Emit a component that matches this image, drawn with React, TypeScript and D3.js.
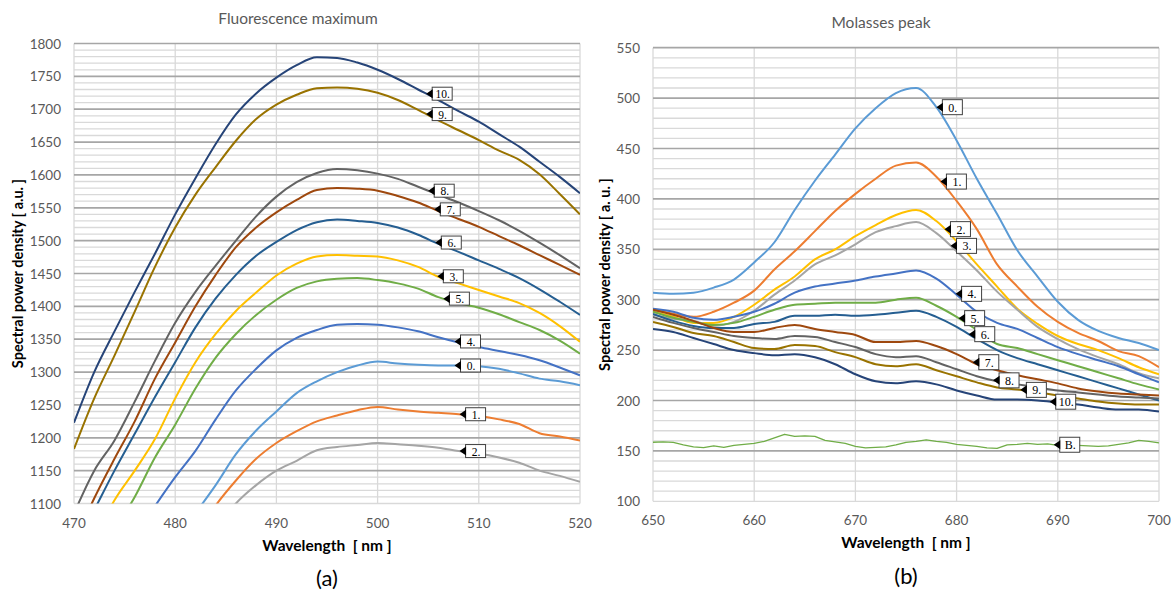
import React from 'react';
import * as d3 from 'd3';

// ---------- Panel (a): Fluorescence maximum ----------
const WL_A = [470, 472, 474, 476, 478, 480, 482, 484, 486, 488, 490, 492, 494, 496, 498, 500, 502, 504, 506, 508, 510, 512, 514, 516, 518, 520];
const A_NAMES = ['0.', '1.', '2.', '3.', '4.', '5.', '6.', '7.', '8.', '9.', '10.'];
const A0 = [null, null, null, null, null, 1040, 1085, 1128, 1175, 1211, 1240, 1268, 1286, 1300, 1310, 1316, 1313, 1311, 1310, 1310, 1309, 1305, 1298, 1290, 1286, 1280];
const A1 = [null, null, null, null, null, null, 1050, 1097, 1135, 1168, 1192, 1210, 1225, 1234, 1242, 1247, 1243, 1240, 1238, 1236, 1233, 1228, 1221, 1207, 1202, 1196];
const A2 = [null, null, null, null, null, null, null, 1060, 1100, 1128, 1150, 1165, 1181, 1186, 1189, 1192, 1190, 1188, 1185, 1180, 1176, 1170, 1162, 1150, 1142, 1133];
const A3 = [null, 1045, 1105, 1150, 1198, 1260, 1315, 1358, 1393, 1421, 1447, 1465, 1476, 1478, 1477, 1476, 1470, 1460, 1445, 1435, 1425, 1415, 1405, 1390, 1370, 1346];
const A4 = [null, null, null, 1050, 1096, 1140, 1180, 1228, 1272, 1305, 1333, 1352, 1364, 1372, 1373, 1372, 1368, 1362, 1353, 1345, 1338, 1332, 1326, 1318, 1307, 1295];
const A5 = [null, null, 1060, 1110, 1170, 1220, 1275, 1322, 1358, 1387, 1410, 1428, 1438, 1442, 1443, 1440, 1435, 1427, 1414, 1405, 1398, 1388, 1376, 1364, 1348, 1328];
const A6 = [1030, 1090, 1150, 1206, 1262, 1315, 1368, 1412, 1448, 1477, 1498, 1516, 1528, 1532, 1530, 1527, 1520, 1509, 1495, 1483, 1470, 1457, 1443, 1426, 1407, 1387];
const A7 = [1040, 1108, 1168, 1225, 1290, 1345, 1400, 1448, 1490, 1520, 1543, 1562, 1577, 1580, 1579, 1576, 1568, 1558, 1545, 1533, 1521, 1507, 1493, 1478, 1463, 1448];
const A8 = [1085, 1150, 1196, 1255, 1317, 1375, 1422, 1462, 1500, 1537, 1567, 1589, 1603, 1609, 1607, 1602, 1594, 1582, 1570, 1558, 1545, 1531, 1515, 1497, 1478, 1458];
const A9 = [1183, 1260, 1325, 1392, 1460, 1520, 1570, 1612, 1652, 1685, 1707, 1722, 1732, 1733, 1731, 1725, 1714, 1699, 1683, 1668, 1653, 1637, 1623, 1601, 1571, 1540];
const A10 = [1223, 1300, 1362, 1422, 1480, 1540, 1595, 1647, 1692, 1724, 1748, 1767, 1779, 1778, 1771, 1760, 1746, 1730, 1714, 1697, 1681, 1662, 1643, 1620, 1597, 1572];
const A_LABEL_WL = [507.6, 508.1, 508.1, 505.9, 507.6, 506.5, 505.7, 505.6, 505.0, 504.8, 504.8];
const A_X_TICKS = [470, 480, 490, 500, 510, 520];
const A_Y_DOMAIN = [1100, 1800];

// ---------- Panel (b): Molasses peak ----------
const WL_B = [650, 652, 654, 656, 658, 660, 662, 664, 666, 668, 670, 672, 674, 676, 678, 680, 682, 684, 686, 688, 690, 692, 694, 696, 698, 700];
const B_NAMES = ['0.', '1.', '2.', '3.', '4.', '5.', '6.', '7.', '8.', '9.', '10.'];
const B0 = [307, 306, 307, 312, 320, 337, 357, 389, 418, 444, 470, 490, 505, 510, 491, 458, 420, 385, 349, 323, 298, 280, 269, 262, 257, 250];
const B1 = [290, 286, 283, 288, 297, 309, 330, 348, 368, 388, 405, 420, 433, 436, 422, 398, 370, 335, 313, 293, 278, 267, 259, 249, 244, 233];
const B2 = [288, 283, 277, 277, 283, 295, 310, 323, 340, 350, 363, 374, 384, 389, 378, 358, 335, 313, 291, 276, 264, 256, 250, 242, 233, 226];
const B3 = [285, 281, 279, 274, 278, 289, 305, 319, 335, 344, 355, 367, 373, 377, 366, 348, 329, 308, 290, 273, 261, 251, 243, 236, 227, 222];
const B4 = [291, 288, 282, 280, 283, 288, 296, 307, 313, 316, 319, 323, 326, 329, 321, 305, 288, 277, 271, 262, 253, 246, 240, 234, 226, 218];
const B5 = [288, 282, 278, 275, 277, 283, 290, 295, 296, 297, 297, 297, 300, 302, 294, 283, 270, 256, 252, 246, 240, 234, 228, 222, 216, 211];
const B6 = [286, 279, 274, 272, 272, 276, 278, 284, 284, 285, 284, 285, 287, 289, 283, 273, 261, 250, 242, 236, 230, 224, 218, 212, 206, 200];
const B7 = [290, 285, 279, 272, 268, 268, 272, 275, 271, 268, 265, 258, 258, 259, 254, 246, 236, 230, 225, 221, 217, 212, 209, 207, 206, 205];
const B8 = [283, 277, 272, 268, 264, 262, 261, 264, 263, 258, 253, 246, 243, 244, 238, 231, 224, 219, 216, 213, 210, 208, 206, 204, 203, 202];
const B9 = [278, 273, 267, 264, 258, 252, 251, 255, 254, 248, 243, 236, 234, 236, 230, 224, 218, 213, 211, 208, 205, 202, 199, 197, 196, 196];
const B10 = [271, 268, 262, 256, 250, 247, 245, 246, 243, 236, 226, 219, 217, 219, 216, 210, 205, 201, 201, 200, 198, 196, 193, 191, 191, 189];
const B_LABEL_WL = [678.0, 678.4, 678.8, 679.4, 679.9, 680.2, 681.2, 681.6, 683.6, 686.3, 689.2];
const WL_BASE = [650, 651, 652, 653, 654, 655, 656, 657, 658, 659, 660, 661, 662, 663, 664, 665, 666, 667, 668, 669, 670, 671, 672, 673, 674, 675, 676, 677, 678, 679, 680, 681, 682, 683, 684, 685, 686, 687, 688, 689, 690, 691, 692, 693, 694, 695, 696, 697, 698, 699, 700];
const BASE = [158.6, 159, 158.5, 156, 154, 153.3, 155, 153.5, 155.5, 156.5, 157.5, 159.5, 163, 166.5, 164.5, 165, 164.5, 160.5, 159, 157.5, 154.5, 153, 153.5, 154, 156, 158.5, 159.5, 161, 159.5, 158.5, 156.5, 155.5, 154.5, 153, 152.5, 156, 156.5, 157.5, 156.5, 157, 155.5, 156, 155.5, 155, 154.5, 155, 156.5, 158, 160.5, 159.5, 158];
const BASE_NAME = 'B.';
const BASE_LABEL_WL = 689.6;
const B_X_TICKS = [650, 660, 670, 680, 690, 700];
const B_Y_DOMAIN = [100, 550];

// ---------- styles ----------
const COLORS_A = ['#5B9BD5', '#ED7D31', '#A5A5A5', '#FFC000', '#4472C4', '#70AD47', '#255E91', '#9E480E', '#636363', '#997300', '#264478'];
const COLORS_B = ['#5B9BD5', '#ED7D31', '#FFC000', '#A5A5A5', '#4472C4', '#70AD47', '#255E91', '#9E480E', '#636363', '#997300', '#264478'];
const BASE_COLOR = '#70AD47';
const SANS = "Lato, 'Open Sans', sans-serif";
const SERIF = "'Liberation Serif', 'DejaVu Serif', serif";

type Series = { name: string; wl: number[]; values: (number | null)[]; color: string; labelWl: number; width: number; smooth: boolean };

function interp(wl: number[], vals: (number | null)[], x: number): number {
  const i = Math.max(1, Math.min(wl.length - 1, d3.bisectLeft(wl, x)));
  const a = vals[i - 1] as number, b = vals[i] as number;
  const t = (x - wl[i - 1]) / (wl[i] - wl[i - 1]);
  return a + (b - a) * t;
}

function Panel(props: {
  id: string; box: { x0: number; x1: number; y0: number; y1: number };
  xTicks: number[]; yDomain: number[]; series: Series[];
  title: string; titleX: number; titleY: number; yLabel: string; yLabelX: number; letter: string;
  boxH: number; fontSize: number;
}) {
  const { box, xTicks, yDomain, series } = props;
  const x = d3.scaleLinear().domain([xTicks[0], xTicks[xTicks.length - 1]]).range([box.x0, box.x1]);
  const y = d3.scaleLinear().domain(yDomain).range([box.y1, box.y0]);
  const minor = d3.range(yDomain[0], yDomain[1] + 1, 10).filter((v) => v % 50 !== 0);
  const major = d3.range(yDomain[0], yDomain[1] + 1, 50);
  const cx = (box.x0 + box.x1) / 2;
  const cy = (box.y0 + box.y1) / 2;
  return (
    <g>
      <defs>
        <clipPath id={props.id}>
          <rect x={box.x0} y={box.y0 - 1} width={box.x1 - box.x0} height={box.y1 - box.y0 + 1} />
        </clipPath>
      </defs>
      <text x={props.titleX} y={props.titleY} textAnchor="middle" dominantBaseline="central" fontFamily={SANS} fontSize={15.5} fill="#595959">{props.title}</text>
      {minor.map((v) => (
        <line key={'mi' + v} x1={box.x0} x2={box.x1} y1={y(v)} y2={y(v)} stroke="#D9D9D9" strokeWidth={1.3} />
      ))}
      {xTicks.map((v) => (
        <line key={'vx' + v} x1={x(v)} x2={x(v)} y1={box.y0} y2={box.y1} stroke="#D9D9D9" strokeWidth={1.3} />
      ))}
      {major.map((v) => (
        <line key={'ma' + v} x1={box.x0} x2={box.x1} y1={y(v)} y2={y(v)} stroke={v === yDomain[0] ? '#D9D9D9' : '#A6A6A6'} strokeWidth={v === yDomain[0] ? 1.3 : 1.7} />
      ))}
      {major.map((v) => (
        <text key={'yl' + v} x={box.x0 - 13} y={y(v)} textAnchor="end" dominantBaseline="central" fontFamily={SANS} fontSize={13.5} fill="#595959">{v}</text>
      ))}
      {xTicks.map((v) => (
        <text key={'xl' + v} x={x(v)} y={box.y1 + 19} textAnchor="middle" dominantBaseline="central" fontFamily={SANS} fontSize={13.5} fill="#595959">{v}</text>
      ))}
      <g clipPath={`url(#${props.id})`}>
        {series.map((s) => {
          const pts = s.wl.map((w, i) => [w, s.values[i]] as [number, number | null]);
          const line = d3.line<[number, number | null]>()
            .defined((d) => d[1] != null)
            .x((d) => x(d[0]))
            .y((d) => y(d[1] as number))
            .curve(s.smooth ? d3.curveMonotoneX : d3.curveLinear);
          return <path key={s.name} d={line(pts) || ''} fill="none" stroke={s.color} strokeWidth={s.width} strokeLinejoin="round" />;
        })}
      </g>
      {series.map((s) => {
        const tx = x(s.labelWl);
        const ty = y(interp(s.wl, s.values, s.labelWl));
        const h = props.boxH;
        return (
          <g key={'lb' + s.name} transform={`translate(${tx},${ty})`}>
            <rect x={6} y={-h / 2} width={20} height={h} fill="#FFFFFF" stroke="#404040" strokeWidth={1} />
            <path d="M0,0 L6.5,-4.5 L6.5,4.5 Z" fill="#000" />
            <text x={16.5} y={0.5} textAnchor="middle" dominantBaseline="central" fontFamily={SERIF} fontSize={props.fontSize} fill="#000">{s.name}</text>
          </g>
        );
      })}
      <text transform={`translate(${props.yLabelX},${cy}) rotate(-90)`} textAnchor="middle" dominantBaseline="central" fontFamily={SANS} fontWeight="bold" fontSize={14.5} fill="#000">{props.yLabel}</text>
      <text x={cx} y={box.y1 + 41} textAnchor="middle" dominantBaseline="central" fontFamily={SANS} fontWeight="bold" fontSize={15.5} fill="#000" style={{ whiteSpace: 'pre' }}>{'Wavelength  [ nm ]'}</text>
      <text x={cx} y={box.y1 + 74} textAnchor="middle" dominantBaseline="central" fontFamily={SANS} fontSize={22} fill="#000">{props.letter}</text>
    </g>
  );
}

const A_VALUES = [A0, A1, A2, A3, A4, A5, A6, A7, A8, A9, A10];
const B_VALUES = [B0, B1, B2, B3, B4, B5, B6, B7, B8, B9, B10];

export default function App() {
  const seriesA: Series[] = A_NAMES.map((n, i) => ({ name: n, wl: WL_A, values: A_VALUES[i], color: COLORS_A[i], labelWl: A_LABEL_WL[i], width: 2, smooth: true }));
  const seriesB: Series[] = [
    { name: BASE_NAME, wl: WL_BASE, values: BASE, color: BASE_COLOR, labelWl: BASE_LABEL_WL, width: 1.3, smooth: false },
    ...B_NAMES.map((n, i) => ({ name: n, wl: WL_B, values: B_VALUES[i], color: COLORS_B[i], labelWl: B_LABEL_WL[i], width: 2, smooth: true })),
  ];
  return (
    <svg width={1171} height={592} style={{ position: 'absolute', left: 0, top: 0, background: '#fff' }}>
      <rect width={1171} height={592} fill="#fff" />
      <Panel id="clipA" box={{ x0: 74, x1: 580, y0: 43.5, y1: 503.5 }} xTicks={A_X_TICKS} yDomain={A_Y_DOMAIN} series={seriesA}
        title="Fluorescence maximum" titleX={298} titleY={18} yLabel="Spectral power density [ a.u. ]" yLabelX={17} letter="(a)" boxH={13} fontSize={11.5} />
      <Panel id="clipB" box={{ x0: 653, x1: 1159, y0: 47.7, y1: 501.3 }} xTicks={B_X_TICKS} yDomain={B_Y_DOMAIN} series={seriesB}
        title="Molasses peak" titleX={881} titleY={22} yLabel="Spectral power density [ a. u. ]" yLabelX={604} letter="(b)" boxH={15} fontSize={12} />
    </svg>
  );
}
